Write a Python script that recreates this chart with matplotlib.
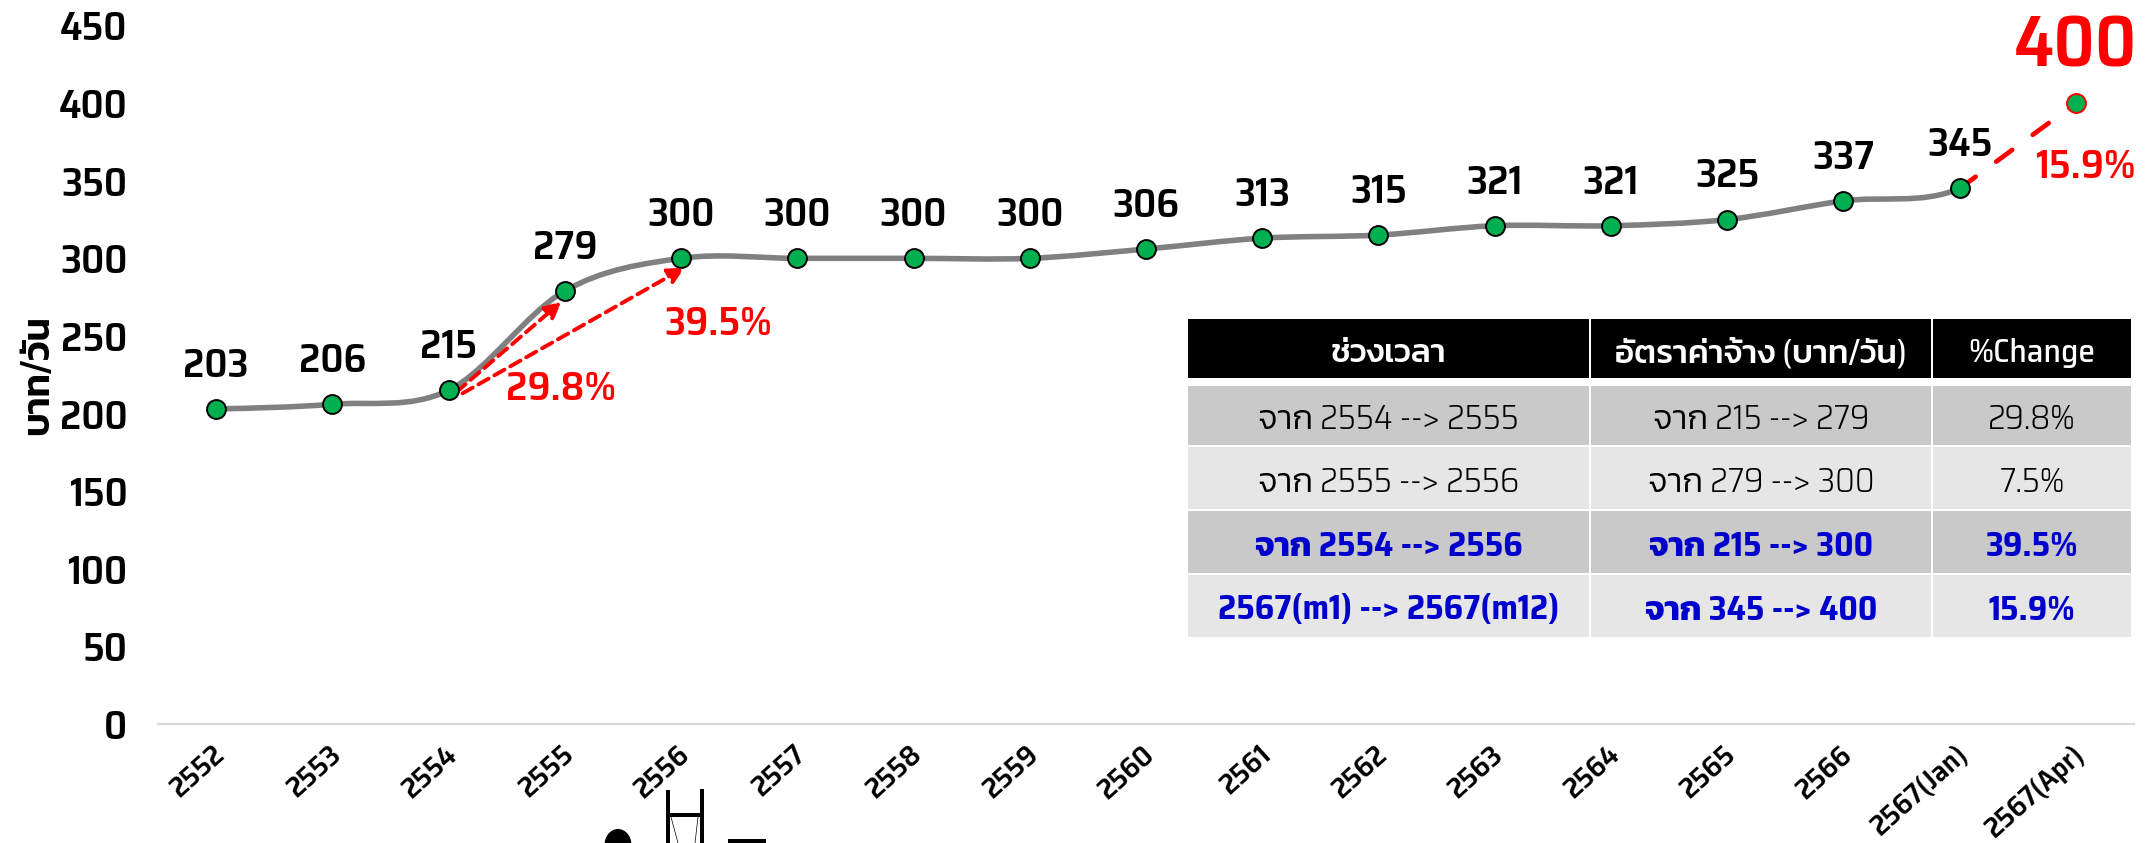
import numpy as np
import matplotlib
matplotlib.use('Agg')
import matplotlib.pyplot as plt
from matplotlib.path import Path
from matplotlib.patches import PathPatch, Rectangle, Ellipse
from matplotlib.transforms import ScaledTranslation

FONT = ['Saira SemiCondensed', 'Kanit', 'Noto Sans Thai', 'DejaVu Sans']
plt.rcParams['font.family'] = FONT

years = ['2552', '2553', '2554', '2555', '2556', '2557', '2558', '2559', '2560',
         '2561', '2562', '2563', '2564', '2565', '2566', '2567(Jan)', '2567(Apr)']
wage = [203, 206, 215, 279, 300, 300, 300, 300, 306,
        313, 315, 321, 321, 325, 337, 345, 400]
y_ticks = [0, 50, 100, 150, 200, 250, 300, 350, 400, 450]

table_header = ['ช่วงเวลา', 'อัตราค่าจ้าง (บาท/วัน)', '%Change']
table_col1 = ['จาก 2554 --> 2555', 'จาก 2555 --> 2556', 'จาก 2554 --> 2556', '2567(m1) --> 2567(m12)']
table_col2 = ['จาก 215 --> 279', 'จาก 279 --> 300', 'จาก 215 --> 300', 'จาก 345 --> 400']
table_col3 = ['29.8%', '7.5%', '39.5%', '15.9%']

W, H = 2156, 843
fig = plt.figure(figsize=(W / 100, H / 100), dpi=100)
ax = fig.add_axes([158 / W, 1 - 724 / H, (2134 - 158) / W, (724 - 25.5) / H])
ax.set_xlim(-0.5, 16.5)
ax.set_ylim(0, 450)

x = np.arange(len(wage))
y = np.array(wage, dtype=float)

# smoothed line like the spreadsheet one, stops at 2567(Jan)
verts = [(x[0], y[0])]
codes = [Path.MOVETO]
for i in range(15):
    p0 = y[max(i - 1, 0)]
    p3 = y[min(i + 2, 16)]
    verts += [(x[i] + 1 / 3, y[i] + (y[i + 1] - p0) / 6),
              (x[i + 1] - 1 / 3, y[i + 1] - (p3 - y[i]) / 6),
              (x[i + 1], y[i + 1])]
    codes += [Path.CURVE4] * 3
ax.add_patch(PathPatch(Path(verts, codes), fill=False, edgecolor='#808080', lw=4, zorder=2))

ax.plot(x[15:], y[15:], color='red', lw=3.4, dashes=(4.2, 5.4), dash_capstyle='round', zorder=2)

ax.plot(x[:16], y[:16], 'o', ms=13.6, mfc='#00B050', mec='black', mew=1.4, zorder=4)
ax.plot(x[16], y[16], 'o', ms=13.6, mfc='#00B050', mec='red', mew=1.4, zorder=4)

for i in range(16):
    ax.annotate(str(wage[i]), (x[i], y[i]), xytext=(0, 31), textcoords='offset points',
                ha='center', va='center', fontsize=29, fontweight=600, color='black')
ax.annotate(str(wage[16]), (x[16], y[16]), xytext=(0, 41), textcoords='offset points',
            ha='center', va='center', fontsize=52, fontweight=600, color='red')

# growth arrows
arrow = dict(arrowstyle='-|>', color='red', lw=2.8, linestyle=(0, (3, 1.7)), mutation_scale=24,
             shrinkA=0, shrinkB=0)
ax.annotate('', xy=(3 - 0.03, wage[3] - 7), xytext=(2 + 0.07, wage[2] - 1), arrowprops=arrow, zorder=3)
ax.annotate('', xy=(4 + 0.03, wage[4] - 6), xytext=(2 + 0.12, wage[2] - 2), arrowprops=arrow, zorder=3)

pct_style = dict(ha='center', va='center', fontsize=29, fontweight=600, color='red')
ax.text(3 - 0.03, 216, table_col3[0], **pct_style)
ax.text(4 + 0.32, 258, table_col3[2], **pct_style)
ax.text(16 + 0.08, 359, table_col3[3], **pct_style)

for s in ['top', 'right', 'left']:
    ax.spines[s].set_visible(False)
ax.spines['bottom'].set_color('#D9D9D9')
ax.spines['bottom'].set_linewidth(1.6)

ax.set_yticks(y_ticks)
ax.tick_params(axis='y', length=0, pad=22, labelsize=29)
ax.set_xticks(x)
ax.set_xticklabels(years, rotation=42, ha='right', rotation_mode='anchor', fontsize=21, fontweight=600)
ax.tick_params(axis='x', length=0, pad=12)
shift = ScaledTranslation(-4 / 100, 0, fig.dpi_scale_trans)
for t in ax.get_xticklabels():
    t.set_transform(t.get_transform() + shift)
for t in ax.get_yticklabels():
    t.set_fontweight(600)
fig.text(38 / W, 1 - 375 / H, 'บาท/วัน', rotation=90, ha='center', va='center', fontsize=27, fontweight=600)

# table and the clipped picture under the axis, in image pixels
over = fig.add_axes([0, 0, 1, 1], zorder=5)
over.set_xlim(0, W)
over.set_ylim(H, 0)
over.axis('off')
over.patch.set_alpha(0)

col_edges = [(1188, 1589), (1591, 1931), (1933, 2131)]
row_edges = [(319, 378), (386, 445), (447, 509), (511, 573), (575, 637)]
row_fill = ['black', '#C9C9C9', '#E7E6E6', '#C9C9C9', '#E7E6E6']
rows = [table_header] + [list(r) for r in zip(table_col1, table_col2, table_col3)]

for r, (top, bottom) in enumerate(row_edges):
    for c, (left, right) in enumerate(col_edges):
        over.add_patch(Rectangle((left, top), right - left, bottom - top, fc=row_fill[r], ec='none'))
        if r == 0:
            color, weight, size = 'white', 500, 24
        elif r < 3:
            color, weight, size = 'black', 300, 24.5
        else:
            color, weight, size = '#0000CC', 700, 24.5
        over.text((left + right) / 2, (top + bottom) / 2 + 4, rows[r][c], ha='center', va='center',
                  fontsize=size, color=color, fontweight=weight)

over.add_patch(Ellipse((618, 845), 27, 32, fc='black', ec='none'))
over.add_patch(Rectangle((666, 790), 4, 60, fc='black', ec='none'))
over.add_patch(Rectangle((700, 789), 4, 60, fc='black', ec='none'))
over.add_patch(Rectangle((668, 813), 34, 4, fc='black', ec='none'))
over.plot([671, 678], [817, 843], color='black', lw=0.5)
over.plot([698, 695], [817, 843], color='black', lw=0.5)
over.add_patch(Rectangle((728, 839), 38, 10, fc='black', ec='none'))

fig.savefig('out.png', dpi=100)
